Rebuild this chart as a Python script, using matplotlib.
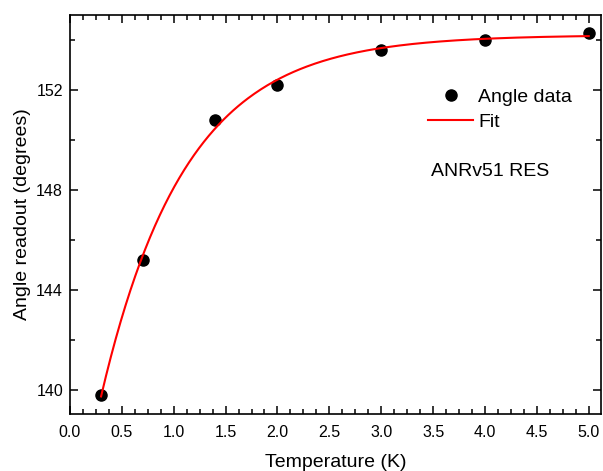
import numpy as np
import matplotlib.pyplot as plt
from matplotlib.ticker import MultipleLocator

plt.rcParams['font.family'] = ['Liberation Sans', 'DejaVu Sans']

# measured angle vs temperature
temperature = [0.3, 0.7, 1.4, 2.0, 3.0, 4.0, 5.0]
angle = [139.8, 145.2, 150.8, 152.2, 153.6, 154.0, 154.3]

# exponential fit y = A - B*exp(-T/tau), tau by grid search, A,B by least squares
T = np.array(temperature)
y = np.array(angle)
best = None
for tau in np.linspace(0.3, 2.0, 1701):
    M = np.column_stack([np.ones_like(T), -np.exp(-T / tau)])
    coef, res, _, _ = np.linalg.lstsq(M, y, rcond=None)
    err = np.sum((M @ coef - y) ** 2)
    if best is None or err < best[0]:
        best = (err, tau, coef)
_, tau, (A, B) = best
t_fit = np.linspace(min(temperature), max(temperature), 300)
y_fit = A - B * np.exp(-t_fit / tau)

fig = plt.figure(figsize=(6.03, 4.71), dpi=100)
ax = fig.add_axes([0.116, 0.121, 0.881, 0.847])

ax.plot(temperature, angle, 'o', color='black', markersize=8, label='Angle data')
ax.plot(t_fit, y_fit, color='red', linewidth=1.5, label='Fit')

ax.set_xlim(0, 5.12)
ax.set_ylim(139.05, 155)
ax.xaxis.set_major_locator(MultipleLocator(0.5))
ax.xaxis.set_minor_locator(MultipleLocator(0.125))
ax.yaxis.set_major_locator(MultipleLocator(4))
ax.yaxis.set_minor_locator(MultipleLocator(2))
ax.xaxis.set_major_formatter(plt.FormatStrFormatter('%.1f'))

ax.tick_params(which='both', direction='in', top=True, right=True, labelsize=11.5, width=1.1)
ax.tick_params(which='major', length=6)
ax.tick_params(which='minor', length=3.5)
ax.tick_params(axis='x', which='major', pad=8)
ax.tick_params(axis='y', which='major', pad=5)
for s in ax.spines.values():
    s.set_linewidth(1.2)

ax.set_xlabel('Temperature (K)', fontsize=14, labelpad=10)
ax.set_ylabel('Angle readout (degrees)', fontsize=14, labelpad=4)

ax.legend(loc='upper left', bbox_to_anchor=(0.66, 0.835), frameon=False, fontsize=14,
          handlelength=2.3, handletextpad=0.25, labelspacing=0.36, borderaxespad=0)
ax.text(0.68, 0.607, 'ANRv51 RES', transform=ax.transAxes, fontsize=14, va='center')

plt.savefig('out.png')
